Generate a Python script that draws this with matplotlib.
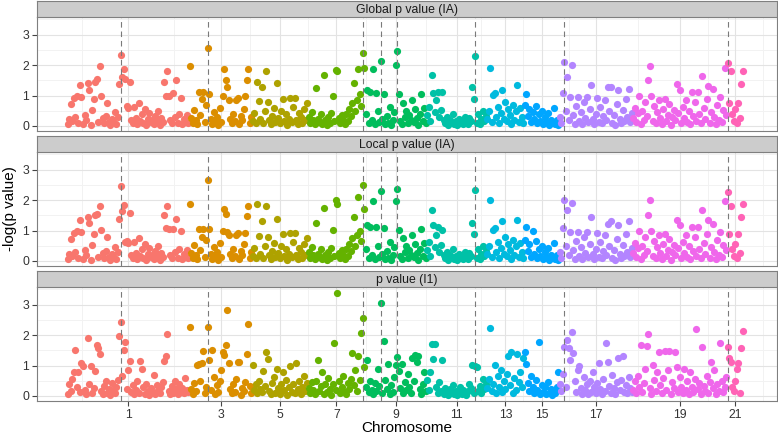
import matplotlib
matplotlib.use("Agg")
import matplotlib.pyplot as plt
import numpy as np

plt.rcParams['font.family'] = ['Liberation Sans', 'DejaVu Sans']

# ---------------- data ----------------
chrom_labels = ["1", "3", "5", "7", "9", "11", "13", "15", "17", "19", "21"]
chrom_colors = ["#F8766D", "#DB8E00", "#AEA200", "#64B200", "#00BD5C", "#00C1A7",
                "#00BADE", "#00A6FF", "#B385FF", "#EF67EB", "#FF63B6"]
panel_titles = ["Global p value (IA)", "Local p value (IA)", "p value (I1)"]

# -log(p) per gene, genes in genomic order, grouped by chromosome block
global_p = [
    [0.05,0.22,0.71,0.15,0.93,0.28,0.97,0.10,1.33,0.95,
     0.06,0.35,0.18,1.40,1.19,0.04,0.52,0.88,1.46,1.54,
     0.12,1.96,1.00,0.25,0.08,0.32,0.77,0.14,0.03,0.22,
     0.16,0.45,0.07,0.30,1.37,2.34,1.60,1.88,1.54,0.67,
     0.58,1.43,0.20,0.09,0.62,0.26,0.05,0.75,0.15,0.38,
     0.11,0.55,0.04,0.24,0.42,0.13,0.20,0.06,0.33,0.17,
     0.48,0.03,0.27,0.12,1.46,0.99,1.80,1.00,0.21,0.08,
     1.08,0.30,1.52,0.10,0.40,0.93,0.05,0.23,0.14,0.35,
     0.09],
    [1.96,0.25,0.10,0.52,0.18,0.05,1.13,0.35,0.89,1.13,
     0.14,0.70,2.56,1.04,0.22,0.07,0.45,0.16,0.30,0.04,
     0.58,0.12,0.97,1.87,1.52,1.27,0.86,0.24,0.09,0.40,
     0.15,0.86,0.93,0.06,0.32,0.20,0.55,1.00,1.50,1.86,
     0.11,0.28],
    [0.16,0.42,0.08,1.46,0.82,0.22,1.27,0.11,0.48,1.80,
     0.80,0.19,0.05,0.33,0.60,0.14,1.40,0.27,0.09,0.50,
     0.89,0.17,0.38,0.04,0.24,0.93,0.12,0.62,0.93,0.21,
     0.07,0.44,0.30,0.10,0.55,0.18,0.75],
    [0.30,0.10,0.45,0.18,0.05,1.24,0.24,0.12,0.38,0.07,
     1.68,0.20,0.04,0.28,0.11,0.42,0.99,0.15,1.85,1.80,
     0.25,0.09,0.35,0.19,0.06,0.40,0.16,0.55,0.32,0.75,
     1.40,0.50,0.85,1.86,1.04,0.66,2.40,1.90],
    [0.40,1.19,0.10,1.11,0.20,1.87,0.07,1.08,0.50,0.14,
     2.14,0.22,1.04,0.05,0.33,0.11,0.62,0.03,0.18,0.45,
     1.99,2.45,1.04,0.15,0.06,0.75,0.28,0.48,0.09,0.36,
     0.21,0.86,0.12,0.55,0.26,0.04,0.40,1.04,0.17,0.60,
     0.10],
    [0.35,0.62,0.15,1.68,1.08,0.45,0.86,1.10,0.28,0.52,
     1.10,0.18,0.10,0.30,0.04,0.20,0.12,0.38,0.06,0.16,
     0.03,0.24,0.09,0.19,0.05,0.30,0.13,0.07,0.25,0.17,
     1.27,0.89,2.29,0.11,0.40,0.06,0.22,0.48,0.15,0.32],
    [0.22,0.50,1.90,0.14,1.02,1.08,0.30,0.62,0.08,0.42,
     1.17,0.24,0.80,0.16,0.55,0.35,0.06,0.70,0.20,0.48,
     1.33,0.12,0.58,0.28,0.10],
    [0.70,1.06,0.32,0.55,0.12,0.45,0.22,0.66,0.08,0.38,
     0.16,0.50,0.05,0.28,0.12,0.42,0.04,0.20,0.09,0.58,
     0.06,0.18,0.03],
    [0.30,0.10,1.08,2.10,0.48,1.60,0.20,0.95,1.99,0.36,
     0.07,0.66,0.95,0.16,0.45,0.05,0.80,0.26,0.95,0.12,
     0.55,1.33,0.22,0.06,0.40,0.93,0.14,0.62,0.09,0.32,
     0.85,0.19,1.27,0.50,1.27,0.11,0.35,0.04,0.72,1.19,
     0.24,0.08,0.52,0.17,0.88,0.30,1.20,0.13,0.42],
    [0.25,0.60,0.12,0.42,0.99,0.07,0.50,0.20,0.80,0.33,
     1.52,1.98,0.99,0.16,0.66,0.10,0.45,0.85,0.27,0.05,
     0.55,0.90,0.15,0.36,0.72,0.04,0.30,0.52,0.18,1.37,
     0.42,1.19,0.09,0.62,0.25,0.85,0.13,0.48,0.05,1.11,
     0.32,0.78,0.16,1.13,0.40,0.08,1.65,0.58,0.22,0.90,
     1.32,0.11,0.45,1.20,0.28,0.06,0.68,0.20,0.95,0.14,
     0.52,1.92,0.35],
    [2.07,0.75,1.81,0.40,0.15,0.55,0.08,0.75,0.25,1.38,1.79],
]

local_p = [
    [0.05,0.22,0.71,0.15,0.93,0.28,0.97,0.10,1.33,0.95,
     0.06,0.35,0.18,1.43,1.24,0.04,0.52,0.88,1.50,1.54,
     0.12,1.79,1.02,0.25,0.08,0.32,0.80,0.14,0.03,0.22,
     0.16,0.45,0.07,0.30,1.37,2.47,1.63,1.85,0.62,0.67,
     0.58,1.59,0.20,0.09,0.62,0.26,0.05,0.75,0.15,0.38,
     0.11,0.55,0.04,0.24,0.42,0.13,0.20,0.06,0.33,0.17,
     0.48,0.03,0.27,0.12,1.52,1.08,1.79,1.04,0.21,0.08,
     1.04,0.30,1.37,0.10,0.40,0.97,0.05,0.23,0.14,0.35,
     0.09],
    [1.87,0.25,0.10,0.52,0.18,0.05,1.04,0.35,0.80,1.04,
     0.14,0.70,2.65,1.04,0.22,0.07,0.45,0.16,0.30,0.04,
     0.58,0.12,0.97,1.72,1.55,0.95,0.86,0.24,0.09,0.40,
     0.15,0.86,0.93,0.06,0.32,0.20,0.55,0.93,1.49,1.79,
     0.11,0.28],
    [0.16,0.42,0.08,1.87,0.82,0.22,1.30,0.11,0.48,1.79,
     0.80,0.19,0.05,0.33,0.60,0.14,1.38,0.27,0.09,0.50,
     0.89,0.17,0.38,0.04,0.24,0.93,0.12,0.62,0.93,0.21,
     0.07,0.44,0.30,0.10,0.55,0.18,0.75],
    [0.30,0.10,0.45,0.18,0.05,1.24,0.24,0.12,0.38,0.07,
     1.74,0.20,0.04,0.28,0.11,0.42,1.02,0.15,2.00,1.87,
     0.25,0.09,0.35,0.19,0.06,0.40,0.16,0.55,0.32,0.75,
     1.46,0.50,0.85,2.09,1.00,0.66,2.50,1.70],
    [0.40,1.19,0.10,1.11,0.20,1.96,0.07,1.11,0.50,0.14,
     2.29,0.22,1.08,0.05,0.33,0.11,0.62,0.03,0.18,0.45,
     1.96,2.36,1.02,0.15,0.06,0.75,0.28,0.48,0.09,0.36,
     0.21,0.86,0.12,0.55,0.26,0.04,0.40,1.04,0.17,0.60,
     0.10],
    [0.35,0.62,0.15,1.66,1.19,0.45,0.86,1.11,0.28,0.52,
     1.02,0.18,0.10,0.30,0.04,0.20,0.12,0.38,0.06,0.16,
     0.03,0.24,0.09,0.19,0.05,0.30,0.13,0.07,0.25,0.17,
     1.26,0.89,2.32,0.11,0.40,0.06,0.22,0.48,0.15,0.32],
    [0.22,0.50,1.99,0.14,1.02,1.08,0.30,0.62,0.08,0.42,
     1.30,0.24,0.80,0.16,0.55,0.35,0.06,0.70,0.20,0.48,
     1.33,0.12,0.58,0.28,0.10],
    [0.70,1.13,0.32,0.55,0.12,1.00,0.22,0.66,0.08,0.38,
     0.16,0.50,0.05,0.28,0.12,0.42,0.04,0.20,0.09,0.58,
     0.06,0.18,0.03],
    [0.30,0.10,1.08,2.00,0.48,1.68,0.20,0.95,1.90,0.36,
     0.07,0.66,0.95,0.16,0.45,0.05,0.80,0.26,0.95,0.12,
     0.55,1.44,0.22,0.06,0.40,0.93,0.14,0.62,0.09,0.32,
     0.85,0.19,1.20,0.50,1.30,0.11,0.35,0.04,0.72,1.19,
     0.24,0.08,0.52,0.17,0.88,0.30,1.30,0.13,0.42],
    [0.25,0.60,0.12,0.42,0.99,0.07,0.50,0.20,0.80,0.33,
     1.52,2.01,0.99,0.16,0.66,0.10,0.45,0.85,0.27,0.05,
     0.55,0.90,0.15,0.36,0.72,0.04,0.30,0.52,0.18,1.33,
     0.42,1.19,0.09,0.62,0.25,0.85,0.13,0.48,0.05,1.11,
     0.32,0.78,0.16,1.13,0.40,0.08,1.68,0.58,0.22,0.90,
     1.33,0.11,0.45,1.20,0.28,0.06,0.68,0.20,0.95,0.14,
     0.52,1.97,0.35],
    [2.26,0.88,1.82,0.40,0.15,0.55,0.08,0.88,0.25,1.46,1.87],
]

p_i1 = [
    [0.05,0.40,0.16,0.55,0.80,1.51,0.28,0.78,0.12,1.07,
     1.00,0.20,0.07,1.89,0.38,0.97,0.10,0.25,0.82,1.67,
     1.58,1.37,0.15,0.05,0.32,0.48,0.11,0.22,0.04,0.42,
     0.18,0.09,0.30,0.52,1.97,2.42,0.66,1.51,1.76,0.24,
     0.85,1.15,0.14,0.36,0.05,0.20,0.50,0.10,1.16,0.87,
     0.28,0.07,0.40,0.16,0.04,0.25,0.12,0.69,0.06,0.35,
     0.20,0.09,0.30,0.45,1.16,1.32,2.02,0.15,0.07,0.33,
     0.11,0.48,0.22,0.05,0.40,0.14,0.26,0.08,0.60,0.18,
     0.12],
    [2.25,0.24,0.07,0.42,0.15,1.02,1.05,0.50,1.07,1.48,
     0.10,0.30,2.28,1.18,0.20,1.51,0.62,0.05,0.35,0.14,
     0.48,0.85,1.43,1.34,1.67,2.82,1.07,0.22,0.09,0.38,
     0.12,0.55,1.13,1.13,0.04,0.26,0.16,0.45,1.37,2.36,
     0.32,0.10],
    [1.02,0.20,0.40,0.09,0.50,0.24,0.12,0.82,0.33,1.45,
     1.21,0.16,0.06,0.44,0.62,0.11,0.90,0.27,0.07,0.40,
     0.80,0.19,0.52,0.04,0.30,0.97,0.14,0.38,0.10,1.07,
     0.22,0.48,0.07,0.30,0.66,0.15,0.42],
    [0.25,0.11,0.45,0.20,0.07,0.50,1.18,0.16,0.33,0.80,
     0.05,0.40,0.12,0.58,0.24,0.04,0.38,1.73,0.19,3.39,
     0.48,0.10,0.30,0.65,0.14,0.07,0.44,0.22,0.55,1.40,
     0.36,0.85,0.16,1.30,0.52,2.06,2.57,0.95],
    [0.30,1.18,0.12,0.48,0.20,0.07,0.42,0.16,0.90,0.33,
     3.04,0.10,1.80,0.52,0.22,1.04,0.06,0.36,0.14,0.62,
     1.02,1.29,0.82,0.25,1.04,0.09,0.45,0.18,0.72,0.30,
     0.11,1.26,0.50,1.36,1.13,1.32,0.24,0.07,0.40,0.80,
     0.16],
    [0.52,0.20,0.80,1.70,1.23,1.72,0.30,0.10,0.45,0.16,
     1.18,0.07,0.26,0.13,0.04,0.22,0.09,0.35,0.05,0.16,
     0.03,0.11,0.30,0.06,0.20,0.10,0.04,0.15,0.40,0.25,
     1.02,0.08,0.98,0.96,0.16,0.33,0.11,0.55,0.22,0.38],
    [0.26,0.55,2.24,0.16,0.40,1.02,0.10,0.66,0.30,0.85,
     0.14,0.48,0.22,0.72,1.32,0.36,1.43,0.11,0.60,0.20,
     1.37,0.45,0.80,0.28,1.26],
    [1.43,1.04,0.42,0.16,0.66,0.30,0.10,0.52,0.20,1.76,
     0.07,0.36,0.14,0.28,0.05,0.45,0.11,0.22,0.04,0.16,
     0.09,0.30,0.80],
    [0.40,0.16,0.72,1.62,0.30,1.85,1.57,1.18,2.09,1.40,
     0.50,0.12,0.85,1.00,0.25,0.07,0.62,0.20,0.40,0.05,
     0.48,0.14,0.80,0.30,0.10,0.42,1.07,0.22,0.06,0.55,
     0.16,1.73,1.13,0.33,0.11,0.70,0.25,0.07,0.45,1.26,
     0.20,0.52,1.32,0.14,0.36,0.09,0.62,0.26,0.12],
    [0.20,0.48,0.10,0.66,0.30,1.67,0.14,0.42,0.90,1.65,
     2.02,0.25,0.07,1.02,0.52,0.16,0.80,1.45,0.36,0.11,
     0.58,1.47,0.20,0.85,1.47,0.06,0.45,0.25,1.43,0.95,
     0.12,0.62,0.30,0.09,0.88,0.18,0.48,0.05,0.78,0.28,
     0.12,0.55,2.20,0.22,0.42,0.07,1.62,0.33,0.16,0.66,
     0.10,0.45,1.13,0.25,0.85,0.06,0.38,0.16,1.73,0.50,
     0.12,0.30,0.62],
    [1.60,1.26,1.10,0.30,0.15,0.50,0.87,1.07,0.10,1.56,2.14],
]

# gene indices marked by dashed vertical lines
highlight_genes = [35, 93, 196, 208, 219, 271, 330, 439]

# ---------------- layout ----------------
W, H = 778, 434
fig = plt.figure(figsize=(W / 100, H / 100), dpi=100)
fig.patch.set_facecolor("white")

def rect(left, top, width, height):
    return [left / W, 1 - (top + height) / H, width / W, height / H]

sizes = [len(v) for v in global_p]
starts = np.concatenate([[0], np.cumsum(sizes)[:-1]])
centers = starts + (np.array(sizes) - 1) / 2.0
mids = (centers[:-1] + centers[1:]) / 2.0
x_minor = np.concatenate([[centers[0] - (centers[1] - centers[0]) / 2.0], mids,
                          [centers[-1] + (centers[-1] - centers[-2]) / 2.0]])

PL, PW = 37, 739.5
panel_tops = [17.3, 152.3, 287.3]
PH = 113.5
SH = 16.5
xlim = (-20.6, 471.3)
ylim = (-0.16, 3.57)
border = "#7F7F7F"

for k, (title, data) in enumerate(zip(panel_titles, [global_p, local_p, p_i1])):
    top = panel_tops[k]
    ax = fig.add_axes(rect(PL, top, PW, PH))
    ax.set_xlim(*xlim)
    ax.set_ylim(*ylim)
    # grid
    for xv in x_minor:
        ax.axvline(xv, color="#F2F2F2", lw=0.7, zorder=0)
    for yv in [0.5, 1.5, 2.5, 3.5]:
        ax.axhline(yv, color="#F2F2F2", lw=0.7, zorder=0)
    for xv in centers:
        ax.axvline(xv, color="#E3E3E3", lw=0.8, zorder=0)
    for yv in [0, 1, 2, 3]:
        ax.axhline(yv, color="#E3E3E3", lw=0.8, zorder=0)
    # points
    for g, vals in enumerate(data):
        xs = np.arange(starts[g], starts[g] + len(vals))
        ax.scatter(xs, vals, s=27, color=chrom_colors[g], linewidths=0, zorder=2)
    # dashed lines
    for xv in highlight_genes:
        ax.axvline(xv, color="#7A7A7A", lw=0.8, linestyle=(0, (5, 3.5)), zorder=3)
    for sp in ax.spines.values():
        sp.set_color(border)
        sp.set_linewidth(0.8)
    ax.set_yticks([0, 1, 2, 3])
    ax.set_yticklabels(["0", "1", "2", "3"])
    ax.tick_params(axis="y", length=3.6, width=0.8, color="#444444",
                   labelsize=8.8, labelcolor="#333333", pad=2)
    if k == 2:
        ax.set_xticks(centers)
        ax.set_xticklabels(chrom_labels)
        ax.tick_params(axis="x", length=3.6, width=0.8, color="#444444",
                       labelsize=8.8, labelcolor="#333333", pad=2)
    else:
        ax.set_xticks([])
    # strip
    sax = fig.add_axes(rect(PL, top - SH, PW, SH))
    sax.set_xticks([])
    sax.set_yticks([])
    sax.set_facecolor("#CCCCCC")
    for sp in sax.spines.values():
        sp.set_color(border)
        sp.set_linewidth(0.8)
    sax.text(0.5, 0.47, title, ha="center", va="center", fontsize=8.8,
             color="#1A1A1A", transform=sax.transAxes)

fig.text((PL + PW / 2) / W, 1 - 428 / H, "Chromosome", ha="center", va="center",
         fontsize=11, color="black")
fig.text(10 / W, 1 - 209 / H, "-log(p value)", ha="center", va="center",
         rotation=90, fontsize=11, color="black")

fig.savefig("out.png", dpi=100, facecolor="white")
